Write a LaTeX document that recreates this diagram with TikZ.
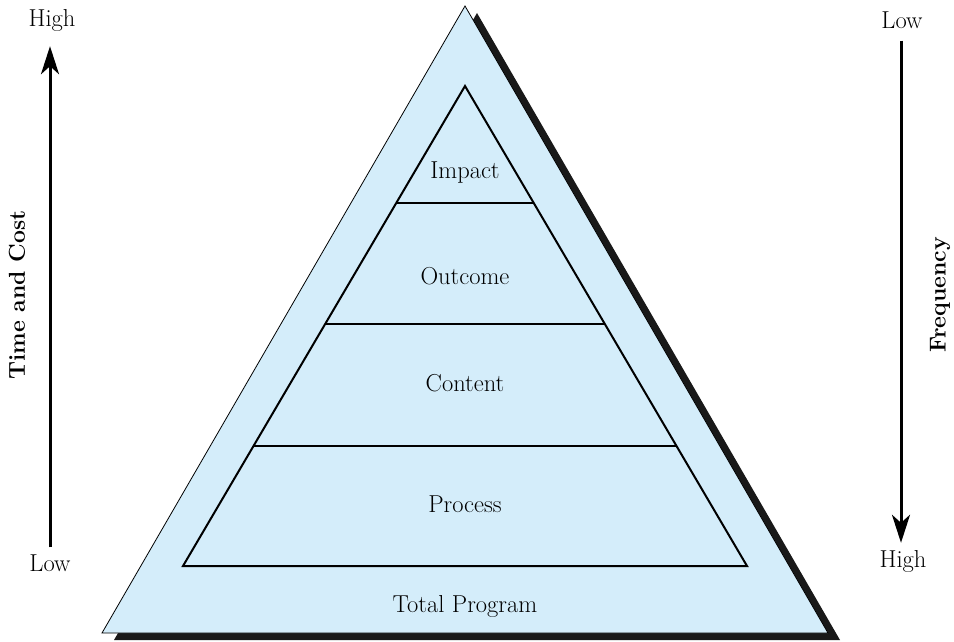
\documentclass[tikz,border=0pt]{standalone}
\usetikzlibrary{arrows.meta,calc}
\definecolor{pyrblue}{RGB}{212,237,250}
\tikzset{
  lbl/.style={font=\fontsize{24.5}{29}\selectfont},
  axlbl/.style={font=\fontsize{23}{27}\selectfont\bfseries,rotate=90},
  endlbl/.style={font=\fontsize{24.5}{29}\selectfont,inner sep=2pt},
  axarrow/.style={line width=3pt,-{Stealth[length=28pt,width=18pt,inset=8pt]}},
}
\begin{document}
\begin{tikzpicture}[x=1pt,y=1pt]
  \useasboundingbox (0,0) rectangle (954,641);
  % outer triangle and its shadow
  \coordinate (top) at (465,635);
  \coordinate (bl) at (102,8);
  \coordinate (br) at (828,8);
  \fill[black!90] ([shift={(12,-7)}]top) -- ([shift={(12,-7)}]bl) -- ([shift={(12,-7)}]br) -- cycle;
  \filldraw[fill=pyrblue,line width=0.8pt] (top) -- (bl) -- (br) -- cycle;
  % inner triangle with its levels
  \coordinate (itop) at (465,555);
  \coordinate (ibl) at (183,75);
  \coordinate (ibr) at (747,75);
  \draw[line width=2pt] (itop) -- (ibl) -- (ibr) -- cycle;
  \foreach \f in {0.244,0.496,0.75}
    \draw[line width=2pt] ($(itop)!\f!(ibl)$) -- ($(itop)!\f!(ibr)$);
  \node[lbl] (impact) at (465,468) {Impact};
  \node[lbl] (outcome) at (465,365) {Outcome};
  \node[lbl] (content) at (465,258) {Content};
  \node[lbl] (process) at (465,137) {Process};
  \node[lbl] (total) at (465,35) {Total Program};
  % time and cost axis
  \node[endlbl] (lowL) at (50,78) {Low};
  \node[endlbl] (highL) at (52,620) {High};
  \draw[axarrow,shorten <=5pt,shorten >=12pt] (lowL.north) -- (highL.south -| lowL.north);
  \node[axlbl] (timecost) at (17,346) {Time and Cost};
  % frequency axis
  \node[endlbl] (lowR) at (902,621) {Low};
  \node[endlbl] (highR) at (903,80) {High};
  \draw[axarrow,shorten <=10pt,shorten >=5pt] (lowR.south -| 901,0) -- (highR.north -| 901,0);
  \node[axlbl] (freq) at (940,346) {Frequency};
\end{tikzpicture}
\end{document}
